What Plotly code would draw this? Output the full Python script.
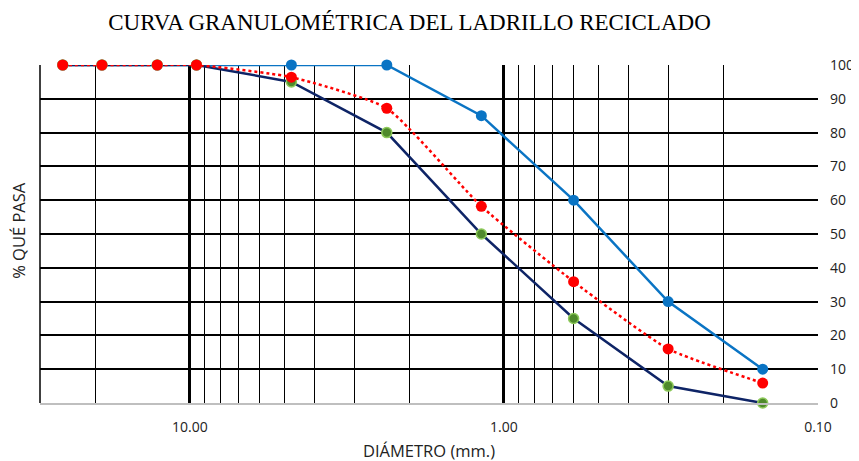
import plotly.graph_objects as go

# Sieve openings (mm)
diametro = [25.4, 19.05, 12.7, 9.525, 4.75, 2.36, 1.18, 0.60, 0.30, 0.15]

# % passing
limite_superior = [100, 100, 100, 100, 100, 100, 85, 60, 30, 10]
limite_inferior = [100, 100, 100, 100, 95, 80, 50, 25, 5, 0]
ladrillo_reciclado = [100, 100, 100, 100, 96.4, 87.2, 58.2, 35.9, 16.0, 5.9]

major_ticks = [10, 1, 0.1]
major_labels = ["10.00", "1.00", "0.10"]
minor_ticks = [30, 20, 9, 8, 7, 6, 5, 4, 3, 2, 0.9, 0.8, 0.7, 0.6, 0.5, 0.4, 0.3, 0.2]
y_ticks = list(range(0, 101, 10))

fig = go.Figure()

fig.add_trace(go.Scatter(
    x=diametro, y=limite_superior, mode="lines+markers",
    line=dict(color="#0A74C4", width=2.5),
    marker=dict(color="#0A74C4", size=11),
    cliponaxis=False, showlegend=False))

fig.add_trace(go.Scatter(
    x=diametro, y=limite_inferior, mode="lines+markers",
    line=dict(color="#0E2466", width=2.5),
    marker=dict(color="#4F8A2C", size=10, line=dict(color="#8DC95A", width=1.5)),
    cliponaxis=False, showlegend=False))

fig.add_trace(go.Scatter(
    x=diametro, y=ladrillo_reciclado, mode="lines+markers",
    line=dict(color="#FF0000", width=2.5, dash="dot", shape="spline", smoothing=0.5),
    marker=dict(color="#FF0000", size=11),
    cliponaxis=False, showlegend=False))

fig.update_xaxes(
    type="log", range=[1.4771, -1], automargin=False,
    tickvals=major_ticks, ticktext=major_labels,
    showgrid=True, gridcolor="black", gridwidth=2.5,
    minor=dict(tickvals=minor_ticks, showgrid=True, gridcolor="black", gridwidth=1, ticks=""),
    showline=True, linecolor="#BFBFBF", linewidth=1.5,
    zeroline=False, ticks="", ticklabelstandoff=10,
    tickfont=dict(family="Open Sans", size=14, color="#222"),
)

fig.update_yaxes(
    side="right", range=[0, 100], tickvals=y_ticks, automargin=False,
    showgrid=True, gridcolor="black", gridwidth=2,
    zeroline=False, showline=False, ticks="", ticklabelstandoff=11,
    tickfont=dict(family="Open Sans", size=14, color="#222"),
)

fig.add_shape(type="line", xref="paper", yref="paper", x0=0, x1=0, y0=0, y1=1,
              line=dict(color="black", width=1.5))

fig.add_annotation(text="% QUÉ PASA", xref="paper", yref="paper", x=-0.028, y=0.51,
                   textangle=-90, showarrow=False, xanchor="center", yanchor="middle",
                   font=dict(family="Open Sans", size=16.5, color="#222"))

fig.add_annotation(text="DIÁMETRO (mm.)", xref="paper", yref="paper", x=0.5, y=-0.142,
                   showarrow=False, xanchor="center", yanchor="middle",
                   font=dict(family="Open Sans", size=16.5, color="#222"))

fig.update_layout(
    width=859, height=461,
    margin=dict(l=32, r=49, t=57, b=66),
    paper_bgcolor="white", plot_bgcolor="white",
    title=dict(text="CURVA GRANULOMÉTRICA DEL LADRILLO RECICLADO", x=0.4674, xanchor="center",
               y=0.9696, yanchor="middle",
               font=dict(family="Liberation Serif", size=23, color="black")),
)

fig.write_html("out.html")
